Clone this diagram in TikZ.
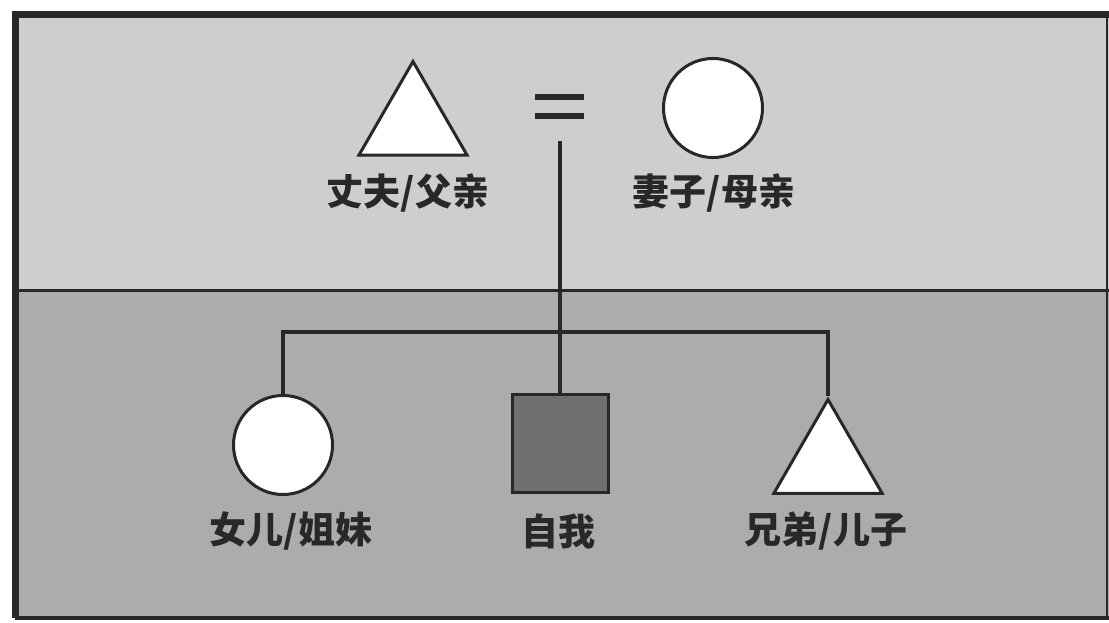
\documentclass[tikz,border=0pt]{standalone}
\usepackage{fontspec}
\newfontfamily\cjk{Noto Sans CJK SC}
\usetikzlibrary{shapes.geometric}
\definecolor{bgup}{RGB}{206,206,206}
\definecolor{bglow}{RGB}{172,172,172}
\definecolor{selffill}{RGB}{112,112,112}
\definecolor{ink}{RGB}{40,40,40}
\tikzset{
  person/.style={draw=ink, line width=3pt, fill=white, inner sep=0pt},
  male/.style={person, regular polygon, regular polygon sides=3, minimum size=125pt},
  female/.style={person, circle, minimum size=99pt},
  ego/.style={person, rectangle, fill=selffill, minimum width=96pt, minimum height=98pt},
  lbl/.style={font=\cjk\bfseries\fontsize{37pt}{39pt}\selectfont, text=ink, inner sep=0pt},
  link/.style={draw=ink, line width=3.5pt},
}
\begin{document}
\begin{tikzpicture}[x=1pt,y=-1pt]
\useasboundingbox (0,0) rectangle (1109,623);
% backgrounds
\fill[white] (0,0) rectangle (1109,623);
\fill[bgup] (15,15) rectangle (1109,290);
\fill[bglow] (15,290) rectangle (1109,618);
% frame
\draw[ink, line width=7pt] (15,618) -- (15,15) -- (1109,15);
\draw[ink, line width=4pt] (15,618) -- (1109,618);
\draw[ink, line width=2pt] (1107,15) -- (1107,618);
\draw[ink, line width=3pt] (15,290) -- (1109,290);
% persons
\node[male]   (fa)  at (413,124) {};
\node[female] (mo)  at (713,108) {};
\node[female] (dau) at (283,445) {};
\node[ego]    (me)  at (560,443) {};
\node[male]   (bro) at (828,462) {};
% labels
\node[lbl] (lfa)  at (408,193) {丈夫/父亲};
\node[lbl] (lmo)  at (714,193) {妻子/母亲};
\node[lbl] (ldau) at (291,531) {女儿/姐妹};
\node[lbl] (lme)  at (558,531) {自我};
\node[lbl] (lbro) at (826,531) {兄弟/儿子};
% marriage sign
\draw[ink, line width=6pt] (535,97) -- (584,97);
\draw[ink, line width=6pt] (535,116) -- (584,116);
\coordinate (marr) at (560,141);
\coordinate (sib) at (560,332);
% connectors
\draw[link] (marr) -- (me.north);
\draw[link] (dau.north) |- (sib) -| (bro.north);
\end{tikzpicture}
\end{document}
